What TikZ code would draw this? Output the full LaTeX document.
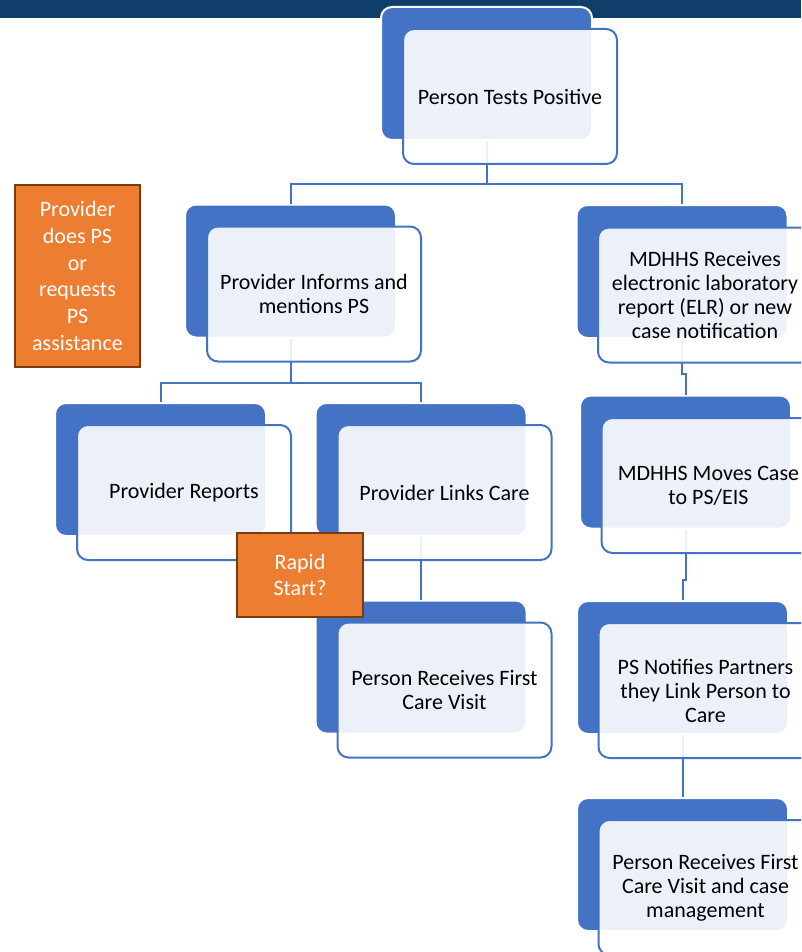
\documentclass[tikz,border=0pt]{standalone}
\usepackage{fontspec}
\setmainfont{Carlito}
\usetikzlibrary{positioning}

\definecolor{hblue}{RGB}{68,114,196}
\definecolor{topbar}{RGB}{16,62,106}
\definecolor{psorange}{RGB}{237,125,49}
\definecolor{psbrown}{RGB}{120,60,16}

\tikzset{
    back/.style={fill=hblue, draw=white, line width=2pt, rounded corners=11pt,
        minimum width=211pt, minimum height=133pt, inner sep=0pt},
    front/.style={fill=white, fill opacity=.9, text opacity=1, draw=hblue,
        line width=2pt, rounded corners=11pt, minimum width=214pt,
        minimum height=135pt, inner sep=0pt, align=center,
        font=\fontsize{22}{24}\selectfont},
    link/.style={draw=hblue, line width=2pt},
    note/.style={fill=psorange, draw=psbrown, line width=2pt, text=white,
        align=center, inner sep=0pt, font=\fontsize{22}{26.8}\selectfont}
}

\begin{document}
\begin{tikzpicture}[x=1pt,y=-1pt]
    \clip (0,0) rectangle (801,952);
    \fill[white] (0,0) rectangle (801,952);
    \fill[topbar] (0,0) rectangle (801,18);

    % back plates
    \node[back] (testB) at (486.5,73.5) {};
    \node[back] (informB) at (290.5,271) {};
    \node[back] (reportsB) at (160.5,469.5) {};
    \node[back] (linksB) at (421,469.5) {};
    \node[back] (visitB) at (421,667) {};
    \node[back] (elrB) at (682,271.5) {};
    \node[back] (movesB) at (685.5,462) {};
    \node[back] (notifyB) at (682.5,667.5) {};
    \node[back] (caseB) at (682.5,864.5) {};

    % connectors
    \draw[link] (testB.south) -- ++(0,43) coordinate (split1) -| (informB.north);
    \draw[link] (split1) -| (elrB.north);
    \draw[link] (informB.south) -- ++(0,44) coordinate (split2) -| (reportsB.north);
    \draw[link] (split2) -| (linksB.north);
    \draw[link] (linksB.south) -- (visitB.north);
    \draw[link] (elrB.south) -- ++(0,35) -| (movesB.north);
    \draw[link] (movesB.south) -- ++(0,50) -| (notifyB.north);
    \draw[link] (notifyB.south) -- (caseB.north);

    % front cards
    \node[front] (test) at ([shift={(23.5,23)}]testB.center) {Person Tests Positive};
    \node[front] (inform) at ([shift={(23.5,23)}]informB.center) {Provider Informs and\\mentions PS};
    \node[front] (reports) at ([shift={(23.5,23)}]reportsB.center) {Provider Reports};
    \node[front] (links) at ([shift={(23.5,23)}]linksB.center) {Provider Links Care};
    \node[front] (visit) at ([shift={(23.5,23)}]visitB.center) {Person Receives First\\Care Visit};
    \node[front] (elr) at ([shift={(23,23.5)}]elrB.center) {MDHHS Receives\\electronic laboratory\\report (ELR) or new\\case notification};
    \node[front] (moves) at ([shift={(23,23.5)}]movesB.center) {MDHHS Moves Case\\to PS/EIS};
    \node[front] (notify) at ([shift={(23,23)}]notifyB.center) {PS Notifies Partners\\they Link Person to\\Care};
    \node[front] (case) at ([shift={(23,23)}]caseB.center) {Person Receives First\\Care Visit and case\\management};

    % orange notes
    \node[note, minimum width=125pt, minimum height=182pt] (psnote) at (77.5,276)
        {Provider\\does PS\\or\\requests\\PS\\assistance};
    \node[note, minimum width=126pt, minimum height=84pt] (rapid) at (300,575)
        {Rapid\\Start?};
\end{tikzpicture}
\end{document}
